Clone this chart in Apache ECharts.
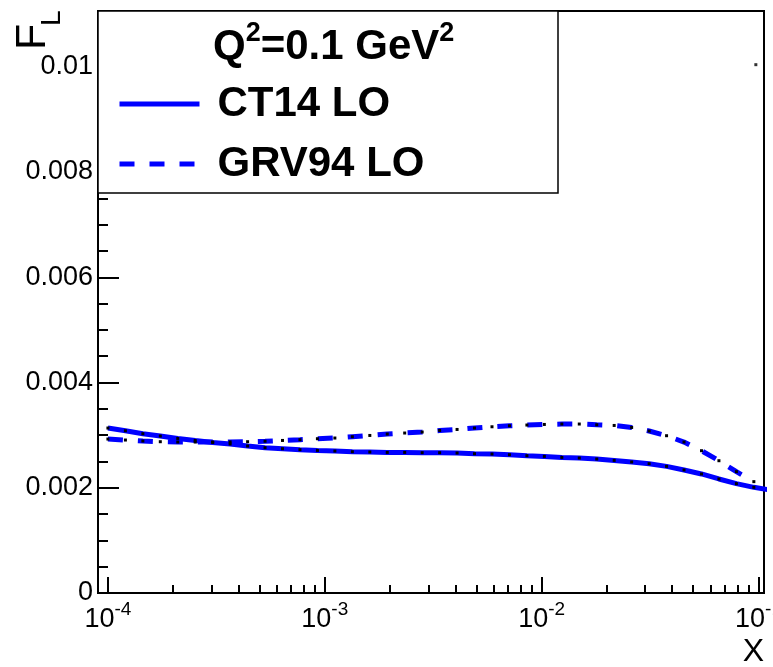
<!DOCTYPE html>
<html lang="en">
<head>
  <meta charset="UTF-8">
  <title>F_L at Q2 = 0.1 GeV2</title>
  <style>
  html, body {
    margin: 0;
    padding: 0;
    width: 100%;
    height: 100%;
    background: #fff;
  }

  .main {
    width: 773px;
    height: 667px;
  }
  </style>
</head>
<body>
<div class="main" id="main"></div>
<script src="https://cdn.jsdelivr.net/npm/echarts@6/dist/echarts.min.js"></script>
<script>
// x points of both curves
var xData = [
  1.000e-4, 1.204e-4, 1.449e-4, 1.744e-4, 2.099e-4, 2.526e-4, 3.041e-4, 3.660e-4,
  4.406e-4, 5.303e-4, 6.383e-4, 7.682e-4, 9.247e-4, 1.113e-3, 1.340e-3, 1.613e-3,
  1.941e-3, 2.336e-3, 2.812e-3, 3.385e-3, 4.074e-3, 4.903e-3, 5.902e-3, 7.104e-3,
  8.551e-3, 1.029e-2, 1.239e-2, 1.491e-2, 1.795e-2, 2.160e-2, 2.600e-2, 3.130e-2,
  3.767e-2, 4.534e-2, 5.458e-2, 6.569e-2, 7.907e-2, 9.517e-2, 1.146e-1
];

var ct14 = [
  0.003135, 0.003083, 0.003027, 0.002983, 0.002937, 0.002899, 0.002862, 0.002831,
  0.002793, 0.002761, 0.002742, 0.002723, 0.002710, 0.002698, 0.002685, 0.002679,
  0.002672, 0.002672, 0.002666, 0.002666, 0.002660, 0.002647, 0.002641, 0.002628,
  0.002609, 0.002596, 0.002577, 0.002565, 0.002546, 0.002520, 0.002490, 0.002457,
  0.002406, 0.002338, 0.002262, 0.002167, 0.002078, 0.002008, 0.001954
];

var grv94 = [
  0.002926, 0.002907, 0.002888, 0.002875, 0.002869, 0.002869, 0.002869, 0.002871,
  0.002875, 0.002884, 0.002899, 0.002913, 0.002932, 0.002945, 0.002970, 0.002994,
  0.003021, 0.003040, 0.003059, 0.003089, 0.003108, 0.003135, 0.003159, 0.003178,
  0.003192, 0.003203, 0.003211, 0.003211, 0.003197, 0.003184, 0.003146, 0.003078,
  0.002989, 0.002869, 0.002704, 0.002514, 0.002306, 0.002116
];

var strayPoint = [[0.0972, 0.01004]];

var xMajor = [1e-4, 1e-3, 1e-2, 1e-1];
var xTickLabels = ['-4', '-3', '-2', '-1'];
var xMinor = [
  2e-4, 3e-4, 4e-4, 5e-4, 6e-4, 7e-4, 8e-4, 9e-4,
  2e-3, 3e-3, 4e-3, 5e-3, 6e-3, 7e-3, 8e-3, 9e-3,
  2e-2, 3e-2, 4e-2, 5e-2, 6e-2, 7e-2, 8e-2, 9e-2
];

var font = 'Liberation Sans';
var myChart = echarts.init(document.getElementById('main'));

function pairs(xs, ys) {
  var out = [];
  for (var i = 0; i < ys.length; i++) {
    out.push([xs[i], ys[i]]);
  }
  return out;
}

function xLabel(value) {
  for (var i = 0; i < xMajor.length; i++) {
    if (Math.abs(value / xMajor[i] - 1) < 1e-6) {
      return '{b|10}{s|' + xTickLabels[i] + '}';
    }
  }
  return '';
}

var option = {
  animation: false,
  backgroundColor: '#fff',
  title: {
    text: '{a|Q}{s|2}{a|=0.1 GeV}{s|2}',
    left: 213,
    top: 20,
    padding: 0,
    z: 20,
    textStyle: {
      rich: {
        a: { fontFamily: font, fontSize: 42, fontWeight: 'bold', color: '#000', lineHeight: 54 },
        s: { fontFamily: font, fontSize: 27, fontWeight: 'bold', color: '#000', lineHeight: 27, verticalAlign: 'top' }
      }
    }
  },
  legend: {
    data: [
      { name: 'CT14 LO', lineStyle: { color: '#0000ff', width: 5, type: 'solid' } },
      { name: 'GRV94 LO', lineStyle: { color: '#0000ff', width: 5, type: [15, 15] } }
    ],
    orient: 'vertical',
    left: 117,
    top: 82,
    padding: 0,
    itemWidth: 80,
    itemHeight: 44,
    itemGap: 16,
    selectedMode: false,
    z: 20,
    itemStyle: { opacity: 0 },
    textStyle: {
      fontFamily: font,
      fontSize: 42,
      fontWeight: 'bold',
      color: '#000',
      lineHeight: 44,
      padding: [0, 0, 0, 13]
    }
  },
  grid: {
    left: 98,
    right: 9,
    top: 11,
    bottom: 74,
    show: true,
    borderColor: '#000',
    borderWidth: 2,
    containLabel: false,
    outerBoundsMode: 'none'
  },
  xAxis: [{
    type: 'log',
    logBase: 10,
    min: 9e-5,
    max: 0.106,
    position: 'bottom',
    name: 'X',
    nameLocation: 'end',
    nameGap: 0,
    nameTextStyle: {
      fontFamily: font, fontSize: 32, color: '#000',
      align: 'right', verticalAlign: 'top', padding: [43, 0, 0, 0]
    },
    axisLine: { onZero: false, lineStyle: { color: '#000', width: 2 } },
    axisTick: { inside: true, length: 16, customValues: xMajor, lineStyle: { color: '#000', width: 2 } },
    minorTick: { show: false },
    splitLine: { show: false },
    axisLabel: {
      customValues: xMajor,
      margin: 7,
      formatter: xLabel,
      rich: {
        b: { fontFamily: font, fontSize: 27, color: '#000', lineHeight: 40 },
        s: { fontFamily: font, fontSize: 19, color: '#000', lineHeight: 19, verticalAlign: 'top' }
      }
    }
  }, {
    type: 'log',
    logBase: 10,
    min: 9e-5,
    max: 0.106,
    position: 'bottom',
    axisLine: { show: false, onZero: false },
    axisTick: { inside: true, length: 8, customValues: xMinor, lineStyle: { color: '#000', width: 2 } },
    axisLabel: { show: false },
    splitLine: { show: false }
  }],
  yAxis: {
    type: 'value',
    min: 0,
    max: 0.01106,
    interval: 0.002,
    axisLine: { show: true, lineStyle: { color: '#000', width: 2 } },
    axisTick: { show: true, inside: true, length: 21, lineStyle: { color: '#000', width: 2 } },
    minorTick: { show: true, splitNumber: 4, length: 10, lineStyle: { color: '#000', width: 2 } },
    splitLine: { show: false },
    minorSplitLine: { show: false },
    axisLabel: {
      fontFamily: font,
      fontSize: 27,
      color: '#000',
      margin: 5,
      showMaxLabel: false
    }
  },
  graphic: [
    {
      type: 'rect',
      z: 10,
      shape: { x: 98, y: 11, width: 460, height: 182 },
      style: { fill: '#fff', stroke: '#000', lineWidth: 1.5 }
    },
    {
      type: 'text',
      x: 33,
      y: 50,
      rotation: Math.PI / 2,
      style: {
        text: 'F', font: '43px "Liberation Sans"', fill: '#000',
        align: 'left', verticalAlign: 'middle', textAlign: 'left', textVerticalAlign: 'middle'
      }
    },
    {
      type: 'text',
      x: 52,
      y: 26,
      rotation: Math.PI / 2,
      style: {
        text: 'L', font: '28px "Liberation Sans"', fill: '#000',
        align: 'left', verticalAlign: 'middle', textAlign: 'left', textVerticalAlign: 'middle'
      }
    }
  ],
  series: [{
    name: 'CT14 LO',
    type: 'line',
    xAxisIndex: 0,
    data: pairs(xData, ct14),
    symbol: 'rect',
    symbolSize: 3,
    showAllSymbol: true,
    clip: true,
    itemStyle: { color: '#000', borderWidth: 0 },
    lineStyle: { color: '#0000ff', width: 5, type: 'solid' }
  }, {
    name: 'GRV94 LO',
    type: 'line',
    xAxisIndex: 0,
    data: pairs(xData, grv94),
    symbol: 'rect',
    symbolSize: 3,
    showAllSymbol: true,
    clip: true,
    itemStyle: { color: '#000', borderWidth: 0 },
    lineStyle: { color: '#0000ff', width: 5, type: [15, 15] }
  }, {
    name: 'point',
    type: 'scatter',
    xAxisIndex: 0,
    data: strayPoint,
    symbol: 'rect',
    symbolSize: 3,
    itemStyle: { color: '#000' }
  }]
};

myChart.setOption(option);
</script>
</body>
</html>
